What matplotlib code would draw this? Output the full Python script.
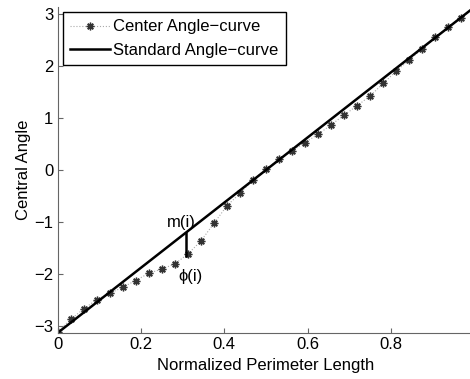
import numpy as np
import matplotlib as mpl
mpl.use('Agg')
from matplotlib import pyplot as plt

# normalized perimeter positions, 32 samples
n_pts       = 32
perim       = np.arange(n_pts) / n_pts
# central angle of the sampled contour
center_ang  = [-3.12, -2.88, -2.68, -2.50, -2.38, -2.26, -2.13, -1.99,
               -1.91, -1.81, -1.62, -1.37, -1.03, -0.69, -0.45, -0.19,
                0.01,  0.21,  0.37,  0.53,  0.69,  0.87,  1.06,  1.24,
                1.43,  1.67,  1.91,  2.12,  2.34,  2.56,  2.75,  2.93]
# standard curve runs from -pi to pi
std_x       = [0., 1.]
std_y       = [-np.pi, np.pi]
mark_x      = 0.307

xticks      = [0, 0.2, 0.4, 0.6, 0.8, 1]
xticklabels = ['0', '0.2', '0.4', '0.6', '0.8', '1']
yticks      = [-3, -2, -1, 0, 1, 2, 3]

plt.rcParams['font.family'] = ['Liberation Sans', 'DejaVu Sans']
plt.rcParams['font.size']   = 12

fig = plt.figure(figsize=(4.70, 3.79), dpi=100)
ax  = fig.add_axes([57.5/470, 46/379, 417/470, 326/379])

ax.plot(perim, center_ang, linestyle=':', color='#aaaaaa', lw=0.8,
        marker=(8, 2, 0), markersize=5.5, markeredgewidth=1.0,
        markeredgecolor='#333333', markerfacecolor='#333333',
        label='Center Angle\u2212curve')
ax.plot(std_x, std_y, color='k', lw=1.8, label='Standard Angle\u2212curve')

# gap between the two curves at one sample
y_top = np.interp(mark_x, std_x, std_y)
y_bot = np.interp(mark_x, perim, center_ang)
ax.plot([mark_x, mark_x], [y_bot, y_top], color='k', lw=1.8)
ax.text(0.297, -1.02, 'm(i)', ha='center', va='center')
ax.text(0.32, -2.06, '\u03d5(i)', ha='center', va='center')

ax.set_xlim(0, 1)
ax.set_ylim(-np.pi, np.pi)
ax.set_xticks(xticks)
ax.set_xticklabels(xticklabels)
ax.set_yticks(yticks)
ax.set_yticklabels(['\u2212%d' % -v if v < 0 else '%d' % v for v in yticks])
for side in ['top', 'right']:
    ax.spines[side].set_visible(False)
for side in ['left', 'bottom']:
    ax.spines[side].set_color('#666666')
ax.tick_params(direction='in', length=3.5, color='#666666', pad=3)

ax.set_xlabel('Normalized Perimeter Length', labelpad=4)
ax.set_ylabel('Central Angle', labelpad=2)

leg = ax.legend(loc='upper left', bbox_to_anchor=(0.012, 0.985), fancybox=False,
                edgecolor='k', framealpha=1, handlelength=2.4, borderpad=0.45,
                labelspacing=0.5, handletextpad=0.2, borderaxespad=0)
leg.get_frame().set_linewidth(1.0)

fig.savefig('out.png', dpi=100)
